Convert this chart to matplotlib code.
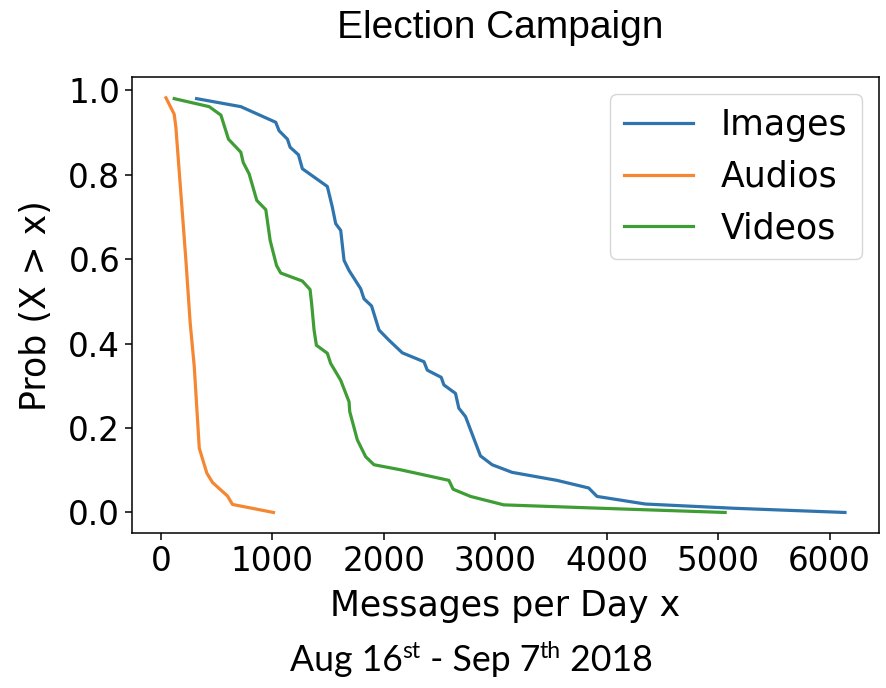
import matplotlib
matplotlib.use("Agg")
import matplotlib.pyplot as plt

# data (CCDF of messages per day)
images_x = [320, 717, 1030, 1060, 1135, 1159, 1234, 1269, 1493, 1538, 1568, 1613, 1643, 1688,
            1792, 1822, 1890, 1957, 2046, 2166, 2360, 2390, 2515, 2539, 2643, 2673, 2733, 2867,
            2972, 3151, 3554, 3838, 3913, 4346, 5137, 6138]
images_y = [0.980, 0.961, 0.924, 0.904, 0.884, 0.865, 0.847, 0.814, 0.772, 0.723, 0.684, 0.668,
            0.597, 0.573, 0.530, 0.506, 0.489, 0.432, 0.408, 0.378, 0.357, 0.337, 0.320, 0.302,
            0.282, 0.247, 0.227, 0.134, 0.113, 0.095, 0.076, 0.058, 0.038, 0.020, 0.010, 0.0]

audios_x = [45, 119, 134, 179, 224, 262, 299, 344, 412, 463, 597, 642, 1010]
audios_y = [0.982, 0.943, 0.912, 0.755, 0.597, 0.45, 0.345, 0.152, 0.093, 0.071, 0.039, 0.019, 0.0]

videos_x = [119, 433, 538, 606, 717, 738, 791, 860, 941, 980, 1037, 1075, 1269, 1338, 1352,
            1374, 1395, 1493, 1523, 1613, 1688, 1694, 1762, 1837, 1912, 2151, 2584, 2622, 2778,
            3076, 3943, 5063]
videos_y = [0.980, 0.961, 0.941, 0.884, 0.853, 0.829, 0.802, 0.739, 0.717, 0.644, 0.585, 0.567,
            0.548, 0.528, 0.495, 0.432, 0.396, 0.377, 0.353, 0.313, 0.262, 0.239, 0.172, 0.132,
            0.113, 0.101, 0.076, 0.055, 0.038, 0.018, 0.010, 0.0]

caption_parts = [("Aug 16", 0), ("st", 1), (" - Sep 7", 0), ("th", 1), (" 2018", 0)]

plt.rcParams['font.family'] = ['DejaVu Sans']
plt.rcParams['font.size'] = 23.5

fig = plt.figure(figsize=(8.86, 6.88), dpi=100)
ax = fig.add_axes([0.149, 0.225, 0.843, 0.663])

ax.plot(images_x, images_y, color='#2f74ad', lw=2.3, label='Images')
ax.plot(audios_x, audios_y, color='#f58632', lw=2.3, label='Audios')
ax.plot(videos_x, videos_y, color='#3f9d35', lw=2.3, label='Videos')

ax.set_xticks([0, 1000, 2000, 3000, 4000, 5000, 6000])
ax.set_yticks([0.0, 0.2, 0.4, 0.6, 0.8, 1.0])
ax.tick_params(length=5, width=1.1)
for s in ax.spines.values():
    s.set_linewidth(1.1)

ax.set_xlabel("Messages per Day x", fontsize=25, labelpad=8)
ax.set_ylabel("Prob (X > x)", fontsize=25, labelpad=11)
ax.legend(loc='upper right', fontsize=25)

fig.text(0.565, 0.96, "Election Campaign", family='Liberation Sans', fontsize=28,
         ha='center', va='center')

# caption with superscripts, laid out piece by piece
renderer = fig.canvas.get_renderer()
pieces = []
total = 0
for txt, sup in caption_parts:
    t = fig.text(0, 0, txt, family='Lato', fontsize=16.5 if sup else 25.7, va='baseline')
    w = t.get_window_extent(renderer).width
    pieces.append((t, w, sup))
    total += w
x0 = 0.532 * fig.bbox.width - total / 2
base = 0.024 * fig.bbox.height
for t, w, sup in pieces:
    t.set_position((x0 / fig.bbox.width, (base + (13 if sup else 0)) / fig.bbox.height))
    x0 += w

fig.savefig("out.png", dpi=100)
